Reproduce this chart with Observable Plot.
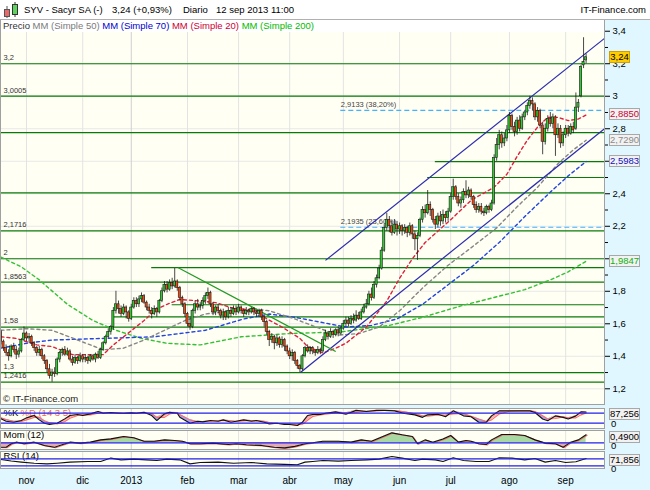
<!DOCTYPE html>
<html><head><meta charset="utf-8">
<script src="https://cdn.jsdelivr.net/npm/d3@7"></script>
<script src="https://cdn.jsdelivr.net/npm/@observablehq/plot@0.6"></script>
<style>
html,body{margin:0;padding:0;background:#fff;}
#wrap{position:relative;width:650px;height:490px;background:#e0f7ff;overflow:hidden;font-family:"Liberation Sans",Arial,sans-serif;color:#000;}
.a{position:absolute;white-space:nowrap;}
#hdr{left:0;top:0;width:650px;height:20px;background:#fff;border-bottom:1px solid #b0b0b0;box-sizing:border-box;font-size:9.5px;}
#hdr span.a{top:4px;}
#leg{left:1px;top:20px;width:601px;height:12px;background:#fff;font-size:9.5px;line-height:12px;padding-left:2px;}
.box{position:absolute;left:609px;height:10px;line-height:10px;font-size:9.5px;text-align:center;border:1px solid #a8a8a8;background:#f2f2f2;}
svg{display:block}
</style></head>
<body><div id="wrap">
 <div id="main" class="a" style="left:0;top:20px"></div>
 <div id="stoch" class="a" style="left:0;top:408px"></div>
 <div id="mom" class="a" style="left:0;top:430px"></div>
 <div id="rsi" class="a" style="left:0;top:451px"></div>
 <div id="hdr" class="a">
  <svg class="a" style="left:3px;top:2px" width="17" height="16">
   <line x1="4" y1="4" x2="4" y2="16" stroke="#555"/><rect x="1.5" y="7.5" width="5" height="7" fill="#e86a6a" stroke="#555"/>
   <line x1="12" y1="0" x2="12" y2="15" stroke="#333"/><rect x="9.5" y="2.5" width="5" height="10" fill="#5fd35f" stroke="#333"/>
  </svg>
  <span class="a" style="left:24px">SYV - Sacyr SA (-)</span>
  <span class="a" style="left:112px">3,24 (+0,93%)</span>
  <span class="a" style="left:183px">Diario</span>
  <span class="a" style="left:216px">12 sep 2013 11:00</span>
  <span class="a" style="right:4px">IT-Finance.com</span>
 </div>
 <div id="leg" class="a"><span style="color:#333">Precio</span> <span style="color:#7a7a7a">MM (Simple 50)</span> <span style="color:#0000cc">MM (Simple 70)</span> <span style="color:#cc0033">MM (Simple 20)</span> <span style="color:#00bb00">MM (Simple 200)</span></div>
 <div class="a" style="left:3px;top:393px;font-size:9.5px;color:#222">© IT-Finance.com</div>
</div>
<script>
// ---------- data ----------
const monthIdx = [10,32,51,73,93,113,134,156,176,199,221];
const monthLabels = ["nov","dic","2013","feb","mar","abr","may","jun","jul","ago","sep"];
const yTicks = [1.2,1.4,1.6,1.8,2,2.2,2.4,2.6,2.8,3,3.2,3.4];
const yMinor = [1.3,1.5,1.7,1.9,2.1,2.3,2.5,2.7,2.9,3.1,3.3];

const open = [
 1.55,1.49,1.45,1.42,1.40,1.46,1.44,1.41,1.43,1.50,
 1.54,1.51,1.52,1.48,1.45,1.42,1.44,1.40,1.37,1.32,1.28,1.30,1.29,1.38,1.42,1.44,1.41,1.43,1.38,1.36,1.39,1.37,
 1.40,1.38,1.39,1.37,1.40,1.38,1.41,1.39,1.44,1.48,1.52,1.55,1.58,1.68,1.72,1.69,1.66,1.70,1.67,
 1.63,1.70,1.74,1.72,1.75,1.77,1.73,1.70,1.68,1.66,1.69,1.67,1.74,1.80,1.84,1.81,1.85,1.83,1.86,1.82,1.76,1.72,
 1.66,1.60,1.58,1.68,1.72,1.70,1.71,1.74,1.77,1.79,1.72,1.67,1.70,1.68,1.65,1.67,1.64,1.68,1.66,1.69,
 1.67,1.70,1.68,1.66,1.68,1.67,1.69,1.67,1.66,1.68,1.64,1.61,1.55,1.50,1.52,1.48,1.51,1.47,1.50,1.46,
 1.43,1.40,1.42,1.37,1.34,1.32,1.40,1.45,1.43,1.45,1.43,1.42,1.44,1.43,1.50,1.54,1.52,1.55,1.53,1.56,1.54,
 1.57,1.60,1.62,1.60,1.63,1.62,1.65,1.63,1.67,1.70,1.72,1.78,1.76,1.84,1.88,1.94,2.05,2.19,2.24,2.20,2.16,2.21,
 2.18,2.20,2.17,2.19,2.16,2.20,2.15,2.12,2.14,2.24,2.30,2.28,2.33,2.30,2.24,2.21,2.26,2.23,2.27,2.25,
 2.29,2.38,2.44,2.38,2.34,2.36,2.41,2.39,2.42,2.38,2.33,2.30,2.32,2.29,2.28,2.32,2.30,2.34,2.62,2.70,2.76,2.71,2.74,
 2.79,2.88,2.81,2.78,2.85,2.80,2.87,2.90,2.94,2.97,2.95,2.87,2.91,2.82,2.72,2.80,2.86,2.83,2.87,2.76,2.80,2.71,
 2.76,2.80,2.77,2.81,2.80,2.93,3.00,3.19,3.22];
const high = [
 1.56,1.50,1.47,1.44,1.47,1.48,1.46,1.45,1.51,1.58,
 1.55,1.54,1.53,1.49,1.46,1.46,1.45,1.41,1.38,1.35,1.32,1.33,1.39,1.43,1.45,1.46,1.45,1.44,1.40,1.41,1.40,1.42,
 1.41,1.41,1.40,1.41,1.41,1.42,1.43,1.45,1.49,1.53,1.57,1.59,1.70,1.80,1.74,1.71,1.72,1.71,1.68,
 1.72,1.76,1.76,1.77,1.79,1.78,1.74,1.72,1.70,1.71,1.70,1.75,1.82,1.86,1.86,1.87,1.88,1.94,1.87,1.83,1.77,1.73,
 1.67,1.64,1.69,1.74,1.75,1.73,1.76,1.79,1.82,1.80,1.73,1.71,1.72,1.69,1.69,1.68,1.70,1.70,1.71,1.71,
 1.72,1.71,1.69,1.70,1.69,1.70,1.70,1.68,1.69,1.69,1.65,1.62,1.56,1.54,1.53,1.53,1.52,1.52,1.51,1.47,
 1.45,1.44,1.43,1.38,1.35,1.41,1.46,1.47,1.46,1.46,1.44,1.46,1.45,1.52,1.56,1.55,1.57,1.56,1.57,1.58,1.58,
 1.62,1.64,1.64,1.65,1.66,1.68,1.67,1.69,1.72,1.75,1.80,1.82,1.86,1.90,1.96,2.07,2.21,2.28,2.26,2.23,2.24,2.23,
 2.22,2.21,2.21,2.20,2.22,2.21,2.17,2.16,2.25,2.32,2.33,2.42,2.35,2.31,2.26,2.28,2.29,2.30,2.29,2.31,
 2.40,2.49,2.45,2.40,2.38,2.43,2.48,2.44,2.43,2.39,2.35,2.34,2.34,2.31,2.33,2.33,2.36,2.64,2.74,2.79,2.78,2.77,2.82,
 2.90,2.89,2.84,2.87,2.88,2.89,2.91,2.96,3.00,2.99,2.96,2.93,2.92,2.84,2.83,2.88,2.90,2.89,2.88,2.83,2.82,2.78,
 2.82,2.82,2.83,2.84,3.02,2.98,3.19,3.36,3.26];
const low = [
 1.47,1.43,1.40,1.37,1.39,1.42,1.38,1.39,1.42,1.49,
 1.49,1.48,1.46,1.43,1.40,1.40,1.38,1.35,1.30,1.26,1.24,1.27,1.28,1.36,1.40,1.40,1.40,1.37,1.34,1.35,1.35,1.36,
 1.36,1.36,1.35,1.36,1.37,1.36,1.38,1.38,1.43,1.47,1.51,1.53,1.56,1.66,1.66,1.64,1.65,1.63,1.61,
 1.62,1.69,1.70,1.70,1.73,1.72,1.68,1.66,1.63,1.65,1.64,1.66,1.73,1.79,1.79,1.80,1.81,1.82,1.80,1.74,1.70,1.64,
 1.58,1.56,1.57,1.66,1.68,1.68,1.69,1.72,1.75,1.70,1.65,1.65,1.66,1.63,1.62,1.62,1.63,1.64,1.65,1.65,
 1.66,1.66,1.64,1.65,1.65,1.66,1.65,1.64,1.64,1.62,1.58,1.53,1.46,1.48,1.44,1.46,1.45,1.45,1.43,1.41,
 1.38,1.37,1.35,1.32,1.30,1.31,1.39,1.42,1.41,1.41,1.40,1.41,1.41,1.42,1.49,1.50,1.51,1.51,1.52,1.52,1.53,
 1.56,1.58,1.58,1.59,1.60,1.61,1.62,1.62,1.66,1.69,1.71,1.74,1.75,1.82,1.87,1.93,2.04,2.17,2.16,2.14,2.15,2.14,
 2.15,2.14,2.15,2.13,2.14,2.12,2.05,1.99,2.13,2.22,2.25,2.27,2.26,2.22,2.18,2.19,2.20,2.21,2.22,2.23,
 2.28,2.36,2.36,2.32,2.31,2.34,2.37,2.37,2.36,2.31,2.28,2.28,2.27,2.26,2.27,2.28,2.29,2.33,2.60,2.67,2.68,2.69,2.72,
 2.77,2.79,2.75,2.76,2.78,2.79,2.85,2.88,2.92,2.91,2.85,2.84,2.80,2.64,2.70,2.78,2.81,2.80,2.63,2.74,2.68,2.69,
 2.74,2.75,2.76,2.77,2.79,2.90,2.99,3.17,3.20];
const close = [
 1.49,1.45,1.42,1.40,1.46,1.44,1.41,1.43,1.50,1.54,
 1.51,1.52,1.48,1.45,1.42,1.44,1.40,1.37,1.32,1.28,1.30,1.29,1.38,1.42,1.44,1.41,1.43,1.38,1.36,1.39,1.37,1.40,
 1.38,1.39,1.37,1.40,1.38,1.41,1.39,1.44,1.48,1.52,1.55,1.58,1.68,1.72,1.69,1.66,1.70,1.67,1.63,
 1.70,1.74,1.72,1.75,1.77,1.73,1.70,1.68,1.66,1.69,1.67,1.74,1.80,1.84,1.81,1.85,1.83,1.86,1.82,1.76,1.72,1.66,
 1.60,1.58,1.68,1.72,1.70,1.71,1.74,1.77,1.79,1.72,1.67,1.70,1.68,1.65,1.67,1.64,1.68,1.66,1.69,1.67,
 1.70,1.68,1.66,1.68,1.67,1.69,1.67,1.66,1.68,1.64,1.61,1.55,1.50,1.52,1.48,1.51,1.47,1.50,1.46,1.43,
 1.40,1.42,1.37,1.34,1.32,1.40,1.45,1.43,1.45,1.43,1.42,1.44,1.43,1.50,1.54,1.52,1.55,1.53,1.56,1.54,1.57,
 1.60,1.62,1.60,1.63,1.62,1.65,1.63,1.67,1.70,1.72,1.78,1.76,1.84,1.88,1.94,2.05,2.19,2.24,2.20,2.16,2.21,2.18,
 2.20,2.17,2.19,2.16,2.20,2.15,2.12,2.14,2.24,2.30,2.28,2.33,2.30,2.24,2.21,2.26,2.23,2.27,2.25,2.29,
 2.38,2.44,2.38,2.34,2.36,2.41,2.39,2.42,2.38,2.33,2.30,2.32,2.29,2.28,2.32,2.30,2.34,2.62,2.70,2.76,2.71,2.74,2.79,
 2.88,2.81,2.78,2.85,2.80,2.87,2.90,2.94,2.97,2.95,2.87,2.91,2.82,2.72,2.80,2.86,2.83,2.87,2.76,2.80,2.71,2.76,
 2.80,2.77,2.81,2.79,2.93,2.96,3.18,3.21,3.24];

const mm20 = [[0,1.52],[6,1.51],[14,1.47],[20,1.46],[28,1.41],[40,1.41],[44,1.47],[52,1.57],[56,1.62],[61,1.69],[65,1.72],[70,1.75],[78,1.74],[84,1.73],[90,1.70],[100,1.68],[104,1.63],[110,1.58],[117,1.51],[120,1.46],[126,1.42],[131,1.45],[135,1.48],[143,1.58],[147,1.66],[151,1.74],[156,1.88],[161,2.00],[166,2.10],[176,2.24],[184,2.36],[193,2.44],[198,2.52],[202,2.63],[206,2.73],[210,2.81],[214,2.87],[218,2.87],[222,2.85],[226,2.86],[229,2.885]];
const mm50 = [[0,1.56],[10,1.57],[20,1.56],[30,1.50],[40,1.44],[48,1.45],[56,1.50],[64,1.56],[72,1.62],[80,1.66],[90,1.68],[100,1.69],[105,1.68],[115,1.63],[125,1.57],[132,1.53],[140,1.54],[148,1.58],[156,1.68],[165,1.82],[175,1.96],[185,2.08],[194,2.19],[202,2.32],[210,2.44],[218,2.585],[224,2.67],[229,2.729]];
const mm70 = [[0,1.45],[10,1.48],[20,1.50],[40,1.51],[60,1.52],[80,1.56],[95,1.63],[105,1.66],[115,1.64],[125,1.61],[135,1.58],[145,1.59],[155,1.63],[165,1.72],[175,1.84],[185,1.96],[195,2.10],[205,2.26],[215,2.41],[222,2.51],[229,2.5983]];
const mm200 = [[0,2.01],[8,1.95],[15,1.87],[26,1.72],[36,1.62],[45,1.56],[55,1.51],[65,1.48],[78,1.47],[94,1.52],[113,1.54],[133,1.55],[152,1.59],[165,1.64],[180,1.71],[195,1.77],[205,1.81],[215,1.87],[222,1.92],[229,1.9847]];

const levelValues = [3.2,3.0005,2.7765,2.598,2.5,2.406,2.1716,2.0,1.945,1.8563,1.717,1.643,1.58,1.3,1.2416];
const levelStarts = [null,null,null,170,167,null,null,null,59,null,67,44,null,null,null];
const levelLabels = ["3,2","3,0005","","","","","2,1716","2","","1,8563","","","1,58","1,3","1,2416"];
const fibValues = [2.9133, 2.1935];
const fibLabels = ["2,9133 (38,20%)", "2,1935 (23,60%)"];
const fibStart = 133;

const trendX1 = [127, 117.2, 69.4], trendY1 = [1.99, 1.30, 1.945];
const trendX2 = [236.2, 236.2, 131], trendY2 = [3.356, 2.80, 1.43];
const trendColors = ["#2b2bb0", "#2b2bb0", "#229922"];

const stochI = [0,2,5,8,10,13,15,17,19,22,25,27,30,32,35,38,40,43,46,48,51,53,56,59,61,64,66,69,70,74,77,79,82,85,87,90,92,95,98,100,103,105,108,111,113,116,118,120,122,125,127,131,135,139,143,147,150,154,158,162,165,167,171,174,177,181,184,187,190,192,195,199,203,207,209,212,214,217,220,222,225,227,229];
const stochK = [46,32,26,36,52,66,40,20,12,20,46,66,72,66,76,90,80,84,80,80,82,80,86,66,36,76,86,80,56,20,32,28,36,32,40,26,32,40,32,36,26,16,20,12,12,6,26,66,72,72,80,88,74,97,90,97,97,94,78,70,55,70,74,59,94,64,59,26,26,64,94,94,94,94,84,45,35,64,55,45,64,88,87.256];
const stochD = [52,42,32,30,40,55,55,35,22,15,30,50,66,70,70,80,84,82,82,80,81,81,83,78,55,55,75,84,72,40,26,30,32,34,36,34,30,34,36,34,32,24,18,16,14,10,14,38,60,70,74,82,82,85,92,93,96,96,88,76,65,62,70,68,75,78,62,45,30,40,75,92,94,94,90,65,45,48,58,52,52,70,82];
const momI = [0,2,4,6,9,13,17,21,23,27,31,35,39,43,48,52,56,60,64,68,71,74,78,83,89,92,96,102,107,111,115,119,122,126,132,137,141,145,149,153,157,161,163,166,169,173,176,179,182,184,187,190,192,196,201,205,209,213,217,220,223,226,229];
const momV = [-0.27,-0.27,-0.06,0.04,-0.06,0.04,-0.16,-0.27,-0.16,0.04,-0.02,0.04,0.18,0.24,0.39,0.31,0.10,0.10,0.18,0.14,0.10,-0.06,-0.06,-0.02,-0.10,-0.06,-0.12,-0.16,-0.27,-0.31,-0.22,-0.06,0.0,0.10,0.10,0.04,0.18,0.10,0.35,0.61,0.49,0.39,-0.06,0.18,0.04,0.24,0.45,0.04,0.14,0.10,-0.06,-0.10,0.18,0.51,0.51,0.45,0.18,-0.02,-0.06,-0.27,0.04,0.18,0.49];
const rsiI = [0,4,8,13,18,22,27,34,39,43,47,52,57,61,65,70,74,78,85,91,98,104,111,116,119,122,126,132,137,143,148,153,157,162,165,170,173,177,181,186,191,195,200,205,209,213,217,221,225,229];
const rsiV = [66,57,51,45,41,45,51,55,55,74,64,68,64,60,68,64,41,49,51,45,49,41,38,36,51,55,60,57,60,64,68,83,74,60,68,64,55,76,60,55,55,76,74,64,72,51,60,49,53,71.856];

// ---------- build ----------
const FONT = "'Liberation Sans', Arial, sans-serif";
const xMin = -0.18, xMax = 236.2, W = 650, MR = 46;
const n = Math.min(open.length, high.length, low.length, close.length);
const candles = d3.range(n).map(i => ({i, o: open[i], h: high[i], l: low[i], c: close[i]}));
const levels = levelValues.map((v, k) => ({v, s: levelStarts[k] == null ? xMin : levelStarts[k], t: levelLabels[k]}));
const fibs = fibValues.map((v, k) => ({v, s: fibStart, t: fibLabels[k]}));
const trends = trendX1.map((x, k) => ({x1: x, y1: trendY1[k], x2: trendX2[k], y2: trendY2[k], c: trendColors[k]}));
const stoch = stochI.map((i, k) => ({i, k: stochK[k], d: stochD[k]}));
const mom = momI.map((i, k) => ({i, v: momV[k]}));
const rsi = rsiI.map((i, k) => ({i, v: rsiV[k]}));
const fmt = v => d3.format("~g")(v).replace(".", ",");
const comma = (f, v) => d3.format(f)(v).replace(".", ",");
const style = {background: "transparent", fontFamily: FONT, fontSize: "9.5px", overflow: "visible"};
const cream = "#fffff4";
const xScale = {domain: [xMin, xMax], axis: null, label: null};
const grid = () => Plot.ruleX(monthIdx, {stroke: d => d === 51 ? "#cfcfcf" : "#e3e3e3"});
const maLine = (data, color) => Plot.line(data, {x: d => d[0], y: d => d[1], stroke: color, strokeWidth: 1.4, strokeDasharray: "3,3"});

const main = Plot.plot({
  width: W, height: 384, marginLeft: 0, marginRight: MR, marginTop: 0, marginBottom: 0, style,
  x: xScale,
  y: {domain: [1.1034, 3.466], axis: null, label: null},
  color: {type: "identity"},
  marks: [
    Plot.frame({fill: cream, stroke: null}),
    Plot.ruleY(yTicks, {stroke: "#e8e8e8"}),
    grid(),
    Plot.ruleY(levels, {y: "v", x1: "s", x2: () => xMax, stroke: "#087a08", strokeWidth: 1.2}),
    Plot.ruleY(fibs, {y: "v", x1: "s", x2: () => xMax, stroke: "#40b4ff", strokeWidth: 1.1, strokeDasharray: "5,3"}),
    Plot.text(fibs, {x: "s", y: "v", text: "t", dy: -6, textAnchor: "start", fontSize: 7.5, fill: "#444"}),
    Plot.text(levels.filter(d => d.t), {y: "v", text: "t", frameAnchor: "left", dx: 3, dy: -6, textAnchor: "start", fontSize: 7.5, fill: "#333"}),
    maLine(mm200, "#33c033"),
    maLine(mm70, "#2244e0"),
    maLine(mm50, "#858585"),
    maLine(mm20, "#e0203a"),
    Plot.link(trends, {x1: "x1", y1: "y1", x2: "x2", y2: "y2", stroke: "c", strokeWidth: 1.2}),
    Plot.ruleX(candles, {x: "i", y1: "l", y2: "h", stroke: "#1a1a1a", strokeWidth: 0.8}),
    Plot.rect(candles, {x1: d => d.i - 0.42, x2: d => d.i + 0.42, y1: "o", y2: "c",
      fill: d => d.c >= d.o ? "#2fcc2f" : "#f04a14", stroke: "#1a1a1a", strokeWidth: 0.6}),
    Plot.axisY(yTicks, {anchor: "right", tickSize: 5, tickPadding: 3, tickFormat: fmt, fontSize: 9.5, label: null}),
    Plot.axisY(yMinor, {anchor: "right", tickSize: 3, tickFormat: () => "", label: null}),
    Plot.frame({stroke: "#a0a0a0"})
  ]
});
document.getElementById("main").appendChild(main);

const title = (t, dx, color) => Plot.text([t], {text: d => d, frameAnchor: "top-left", dx, dy: 1, lineAnchor: "top", textAnchor: "start", fontSize: 9.5, fill: color});

const st = Plot.plot({
  width: W, height: 20, marginLeft: 0, marginRight: MR, marginTop: 0, marginBottom: 0, style,
  x: xScale,
  y: {domain: [-11.8, 108.2], axis: null, label: null},
  marks: [
    Plot.frame({fill: cream, stroke: null}),
    grid(),
    Plot.areaY(stoch, {x: "i", y1: "k", y2: d => Math.max(d.k, d.d), fill: "#9fa4ee"}),
    Plot.areaY(stoch, {x: "i", y1: "d", y2: d => Math.max(d.k, d.d), fill: "#f4b0b0"}),
    title("%K", 3, "#000"),
    title("%D (14 3 5)", 20, "#f06a6a"),
    Plot.line(stoch, {x: "i", y: "d", stroke: "#ff6a6a", strokeWidth: 1.1}),
    Plot.line(stoch, {x: "i", y: "k", stroke: "#111", strokeWidth: 1.1}),
    Plot.ruleY([20, 80], {stroke: "#2020ee", strokeWidth: 1.3}),
    Plot.frame({stroke: "#a0a0a0"})
  ]
});
document.getElementById("stoch").appendChild(st);

const mo = Plot.plot({
  width: W, height: 19, marginLeft: 0, marginRight: MR, marginTop: 0, marginBottom: 0, style,
  x: xScale,
  y: {domain: [-0.41, 0.755], axis: null, label: null},
  marks: [
    Plot.frame({fill: cream, stroke: null}),
    grid(),
    Plot.areaY(mom, {x: "i", y1: 0, y2: d => Math.max(0, d.v), fill: "#a9d9a2"}),
    Plot.areaY(mom, {x: "i", y1: 0, y2: d => Math.min(0, d.v), fill: "#e2a9b4"}),
    title("Mom (12)", 3, "#000"),
    Plot.line(mom, {x: "i", y: "v", stroke: "#f07070", strokeWidth: 1.1, dx: 1, dy: 0.5}),
    Plot.line(mom, {x: "i", y: "v", stroke: "#111", strokeWidth: 1.1}),
    Plot.ruleY([0], {stroke: "#2020ee", strokeWidth: 1.3}),
    Plot.frame({stroke: "#a0a0a0"})
  ]
});
document.getElementById("mom").appendChild(mo);

const rs = Plot.plot({
  width: W, height: 39, marginLeft: 0, marginRight: MR, marginTop: 0, marginBottom: 22, style,
  x: xScale,
  y: {domain: [14.6, 111.7], axis: null, label: null},
  marks: [
    Plot.frame({fill: cream, stroke: null}),
    grid(),
    title("RSI (14)", 3, "#000"),
    Plot.line(rsi, {x: "i", y: "v", stroke: "#111", strokeWidth: 1.1}),
    Plot.ruleY([30, 70], {stroke: "#2020ee", strokeWidth: 1.3}),
    Plot.frame({stroke: "#a0a0a0"}),
    Plot.axisX(monthIdx, {tickFormat: d => monthLabels[monthIdx.indexOf(d)], tickSize: 0, tickPadding: 8, fontSize: 10, label: null})
  ]
});
document.getElementById("rsi").appendChild(rs);

// ---------- value boxes ----------
const wrap = document.getElementById("wrap");
function txt(top, s) {
  const e = document.createElement("div");
  e.className = "a"; e.style.left = "611px"; e.style.top = top + "px"; e.style.fontSize = "9.5px";
  e.textContent = s; wrap.appendChild(e);
}
function box(cy, s, color, bg, border, w) {
  const e = document.createElement("div");
  e.className = "box"; e.style.top = (cy - 6) + "px"; e.style.width = w + "px";
  e.style.color = color; e.style.background = bg; e.style.borderColor = border;
  e.textContent = s; wrap.appendChild(e);
}
const ym = v => 20 + main.scale("y").apply(v);
const last = a => a[a.length - 1];
box(ym(last(mm20)[1]), comma(".4f", last(mm20)[1]), "#cc0033", "#f2f2f2", "#a8a8a8", 29);
box(ym(last(mm50)[1]), comma(".4f", last(mm50)[1]), "#8a8a8a", "#f2f2f2", "#a8a8a8", 29);
box(ym(last(mm70)[1]), comma(".4f", last(mm70)[1]), "#1010c0", "#f2f2f2", "#a8a8a8", 29);
box(ym(last(mm200)[1]), comma(".4f", last(mm200)[1]), "#10b010", "#f2f2f2", "#a8a8a8", 29);
box(ym(last(close)), comma(".2f", last(close)), "#000", "#ffcc00", "#d0a000", 19);

txt(418, "0"); txt(440, "0"); txt(463, "0");
box(408 + st.scale("y").apply(last(stochK)) + 2.5, comma(".3f", last(stochK)), "#000", "#f2f2f2", "#a8a8a8", 29);
box(430 + mo.scale("y").apply(last(momV)) + 2.5, comma(".4f", last(momV)), "#000", "#f2f2f2", "#a8a8a8", 29);
box(451 + rs.scale("y").apply(last(rsiV)) + 2.5, comma(".3f", last(rsiV)), "#000", "#f2f2f2", "#a8a8a8", 29);
</script>
</body></html>
